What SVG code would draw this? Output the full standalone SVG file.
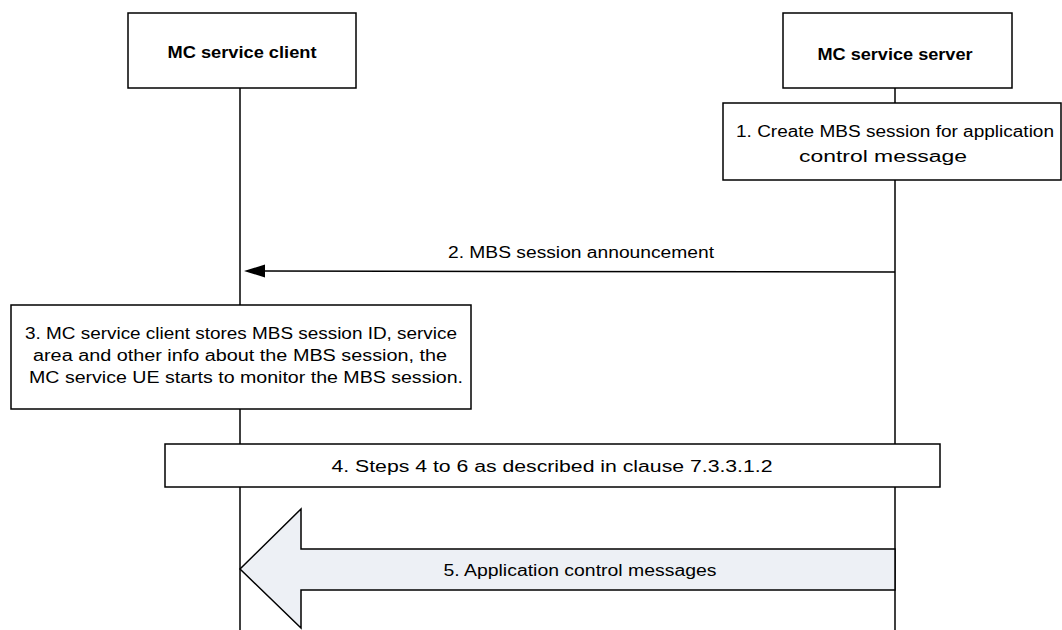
<svg xmlns="http://www.w3.org/2000/svg" width="1062" height="630" viewBox="0 0 1062 630">
  <style>
    .box { fill: #ffffff; stroke: #000000; stroke-width: 1.5; }
    .life { stroke: #000000; stroke-width: 1.5; fill: none; }
    .t { font-family: "Liberation Sans", Arial, sans-serif; font-size: 16px; fill: #000000; text-anchor: middle; }
    .hb { font-weight: bold; }
    .msg { stroke: #000000; stroke-width: 1.5; fill: none; }
    .block { fill: #EDF0F5; stroke: #000000; stroke-width: 1.5; }
  </style>
  <defs>
    <marker id="arrowhead" viewBox="0 0 21 13" refX="0" refY="6.5" markerWidth="21" markerHeight="13" markerUnits="userSpaceOnUse" orient="auto-start-reverse">
      <polygon points="0,0 21,6.5 0,13" fill="#000000"/>
    </marker>
  </defs>
  <rect width="1062" height="630" fill="#ffffff"/>

  <g id="lifelines">
    <line class="life" x1="240" y1="88" x2="240" y2="630"/>
    <line class="life" x1="895" y1="88" x2="895" y2="630"/>
  </g>

  <g id="client">
    <rect class="box" x="128" y="13" width="228" height="75"/>
    <text class="t hb" x="242" y="58" textLength="149" lengthAdjust="spacingAndGlyphs">MC service client</text>
  </g>

  <g id="server">
    <rect class="box" x="783" y="13" width="229" height="75"/>
    <text class="t hb" x="895" y="60" textLength="155" lengthAdjust="spacingAndGlyphs">MC service server</text>
  </g>

  <g id="step1">
    <rect class="box" x="723" y="103" width="338" height="77"/>
    <text class="t" x="895" y="137" textLength="318" lengthAdjust="spacingAndGlyphs">1. Create MBS session for application</text>
    <text class="t" x="883" y="162" textLength="168" lengthAdjust="spacingAndGlyphs">control message</text>
  </g>

  <g id="connectors">
    <line class="msg" x1="895" y1="272" x2="265" y2="271"/>
    <polygon points="244,271 265,264.5 265,277.5" fill="#000000"/>
    <polygon class="block" points="895,549 301,549 301,509 240,569 301,628 301,590 895,590"/>
  </g>

  <g id="label2">
    <text class="t" x="581" y="258" textLength="266" lengthAdjust="spacingAndGlyphs">2. MBS session announcement</text>
  </g>

  <g id="step3">
    <rect class="box" x="11" y="305" width="460" height="104"/>
    <text class="t" x="241" y="339" textLength="432" lengthAdjust="spacingAndGlyphs">3. MC service client stores MBS session ID, service</text>
    <text class="t" x="240" y="361" textLength="414" lengthAdjust="spacingAndGlyphs">area and other info about the MBS session, the</text>
    <text class="t" x="246" y="383" textLength="434" lengthAdjust="spacingAndGlyphs">MC service UE starts to monitor the MBS session.</text>
  </g>

  <g id="step4">
    <rect class="box" x="165" y="444" width="775" height="43"/>
    <text class="t" x="552" y="472" textLength="441" lengthAdjust="spacingAndGlyphs">4. Steps  4 to 6 as described in clause 7.3.3.1.2</text>
  </g>

  <g id="label5">
    <text class="t" x="580" y="576" textLength="273" lengthAdjust="spacingAndGlyphs">5. Application control messages</text>
  </g>
</svg>
